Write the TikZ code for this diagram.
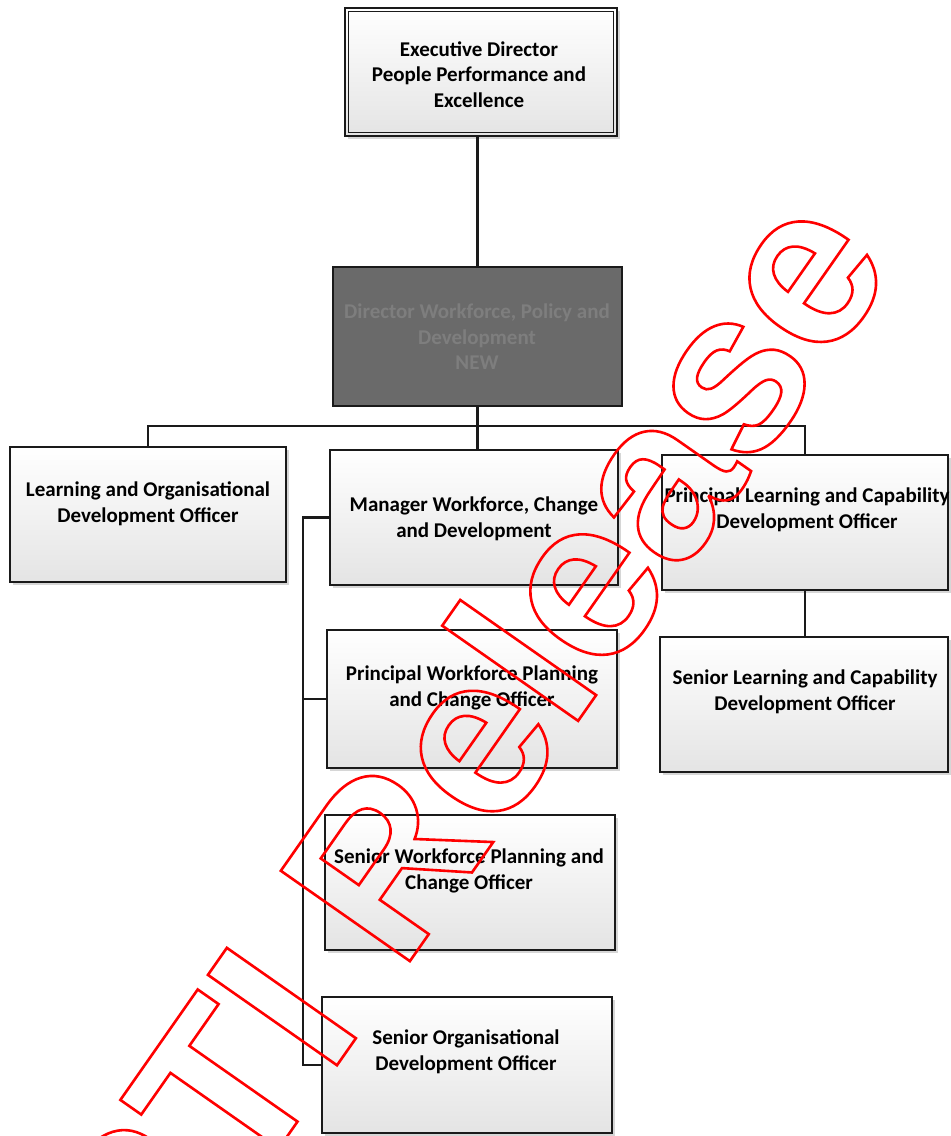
\documentclass[tikz,border=0pt]{standalone}
\usepackage{fontspec}
\setmainfont{Carlito}
\newfontfamily\markfont{Liberation Sans}
\usetikzlibrary{calc,shadows}

\definecolor{inkline}{HTML}{1A1A1A}
\definecolor{boxbot}{HTML}{E4E4E4}
\definecolor{darkfill}{HTML}{6A6A6A}
\definecolor{darktext}{HTML}{7E7E7E}
\definecolor{markred}{HTML}{FF0000}

% stroke-only glyphs (text render mode 1)
\newcommand\strokedtext[1]{\special{pdf:literal direct 1 Tr 2.6 w}#1\special{pdf:literal direct 0 Tr}}

\tikzset{
  orgbox/.style={draw=inkline, line width=1.3pt, top color=white, bottom color=boxbot,
    inner sep=0pt, drop shadow={shadow xshift=2.5pt, shadow yshift=-2.5pt, fill=black, opacity=0.16}},
  darkbox/.style={draw=inkline, line width=1.3pt, fill=darkfill, inner sep=0pt},
  boxtext/.style={align=center, inner sep=0pt, text=black,
    font=\fontsize{21}{25.5}\selectfont\bfseries},
  conn/.style={draw=inkline, line width=2.9pt},
}

\begin{document}
\begin{tikzpicture}[x=1pt, y=-1pt]
\useasboundingbox (0,0) rectangle (951,1136);
\fill[white] (0,0) rectangle (951,1136);

% boxes
\node[orgbox, minimum width=272pt, minimum height=128pt] (exec) at (481,72) {};
\draw[inkline, line width=0.9pt] ($(exec.north west)+(4,4)$) rectangle ($(exec.south east)+(-4,-4)$);
\node[darkbox, minimum width=289pt, minimum height=139pt] (dark) at (477.5,336.5) {};
\node[orgbox, minimum width=276pt, minimum height=135pt] (lod) at (148,514.5) {};
\node[orgbox, minimum width=288pt, minimum height=135pt] (mwcd) at (474,517.5) {};
\node[orgbox, minimum width=286pt, minimum height=135pt] (plcd) at (805,522.5) {};
\node[orgbox, minimum width=288pt, minimum height=135pt] (slcd) at (804,704.5) {};
\node[orgbox, minimum width=290pt, minimum height=138pt] (pwpc) at (472,699) {};
\node[orgbox, minimum width=290pt, minimum height=135pt] (swpc) at (470,882.5) {};
\node[orgbox, minimum width=290pt, minimum height=136pt] (sod) at (467,1065) {};

% titles
\node[boxtext] (exec-t) at (479,74.5) {Executive Director\\People Performance and\\Excellence};
\node[boxtext, text=darktext] (dark-t) at (477,337) {Director Workforce, Policy and\\Development\\NEW};
\node[boxtext] (lod-t) at (148,504) {Learning and Organisational\\Development Officer};
\node[boxtext] (mwcd-t) at (474,519) {Manager Workforce, Change\\and Development};
\node[boxtext] (plcd-t) at (807,510) {Principal Learning and Capability\\Development Officer};
\node[boxtext] (slcd-t) at (805,692) {Senior Learning and Capability\\Development Officer};
\node[boxtext] (pwpc-t) at (472,688) {Principal Workforce Planning\\and Change Officer};
\node[boxtext] (swpc-t) at (469,871) {Senior Workforce Planning and\\Change Officer};
\node[boxtext] (sod-t) at (466,1052) {Senior Organisational\\Development Officer};

% reporting lines
\draw[conn, line width=2.3pt] (dark.north |- exec.south) -- (dark.north);
\coordinate (bus) at (477.5,426);
\draw[conn] (dark.south) -- (dark.south |- mwcd.north);
\draw[conn] (lod.north) |- (bus) -| (plcd.north);
\draw[conn] (plcd.south) -- (plcd.south |- slcd.north);
\coordinate (spinetop) at (303,517.5);
\draw[conn] (mwcd.west) -- (spinetop) |- (sod.west);
\draw[conn] (spinetop |- pwpc.west) -- (pwpc.west);

% release stamp
\node[font=\markfont\bfseries\fontsize{229}{229}\selectfont, text=markred,
  inner sep=0pt, anchor=base west, rotate=55] (stamp) at (153,1328) {\strokedtext{RTI Release}};
\end{tikzpicture}
\end{document}
